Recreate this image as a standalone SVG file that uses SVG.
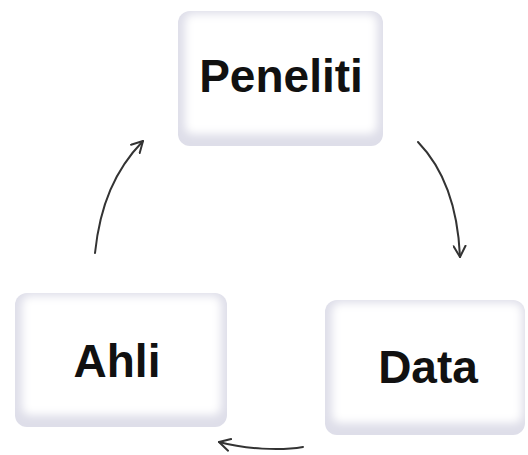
<svg xmlns="http://www.w3.org/2000/svg" width="528" height="455" viewBox="0 0 528 455">
<style>
.lbl{font-family:"Liberation Sans",Arial,sans-serif;font-weight:bold;font-size:46px;fill:#111;text-anchor:middle}
.edge{fill:#dedee9}
.face{fill:#fff;filter:url(#soft)}
.conn{fill:none;stroke:#333;stroke-width:2;stroke-linecap:round;marker-end:url(#ah)}
</style>
<defs>
<filter id="soft" x="-10%" y="-10%" width="120%" height="120%"><feGaussianBlur stdDeviation="4"/></filter>
<marker id="ah" viewBox="0 0 14 14" refX="12" refY="7" markerWidth="14" markerHeight="14" markerUnits="userSpaceOnUse" orient="auto">
<path d="M1,1 L12,7 L1,13" fill="none" stroke="#333" stroke-width="2" stroke-linecap="round" stroke-linejoin="round"/>
</marker>
</defs>
<rect width="528" height="455" fill="#fff"/>
<g id="node-peneliti">
<rect class="edge" x="178" y="11" width="205" height="135" rx="12"/>
<rect class="face" x="185" y="14" width="192" height="120" rx="8"/>
<text class="lbl" x="281" y="92">Peneliti</text>
</g>
<g id="node-ahli">
<rect class="edge" x="15" y="293" width="212" height="134" rx="12"/>
<rect class="face" x="22" y="296" width="199" height="119" rx="8"/>
<text class="lbl" x="117" y="377">Ahli</text>
</g>
<g id="node-data">
<rect class="edge" x="325" y="300" width="200" height="135" rx="12"/>
<rect class="face" x="332" y="303" width="190" height="120" rx="8"/>
<text class="lbl" x="428" y="383">Data</text>
</g>
<g id="connectors">
<path class="conn" d="M95,253 C100,205 115,170 143,141"/>
<path class="conn" d="M418,142 C445,170 458,210 460,257"/>
<path class="conn" d="M303,447 C280,451 245,449 219,442"/>
</g>
</svg>
